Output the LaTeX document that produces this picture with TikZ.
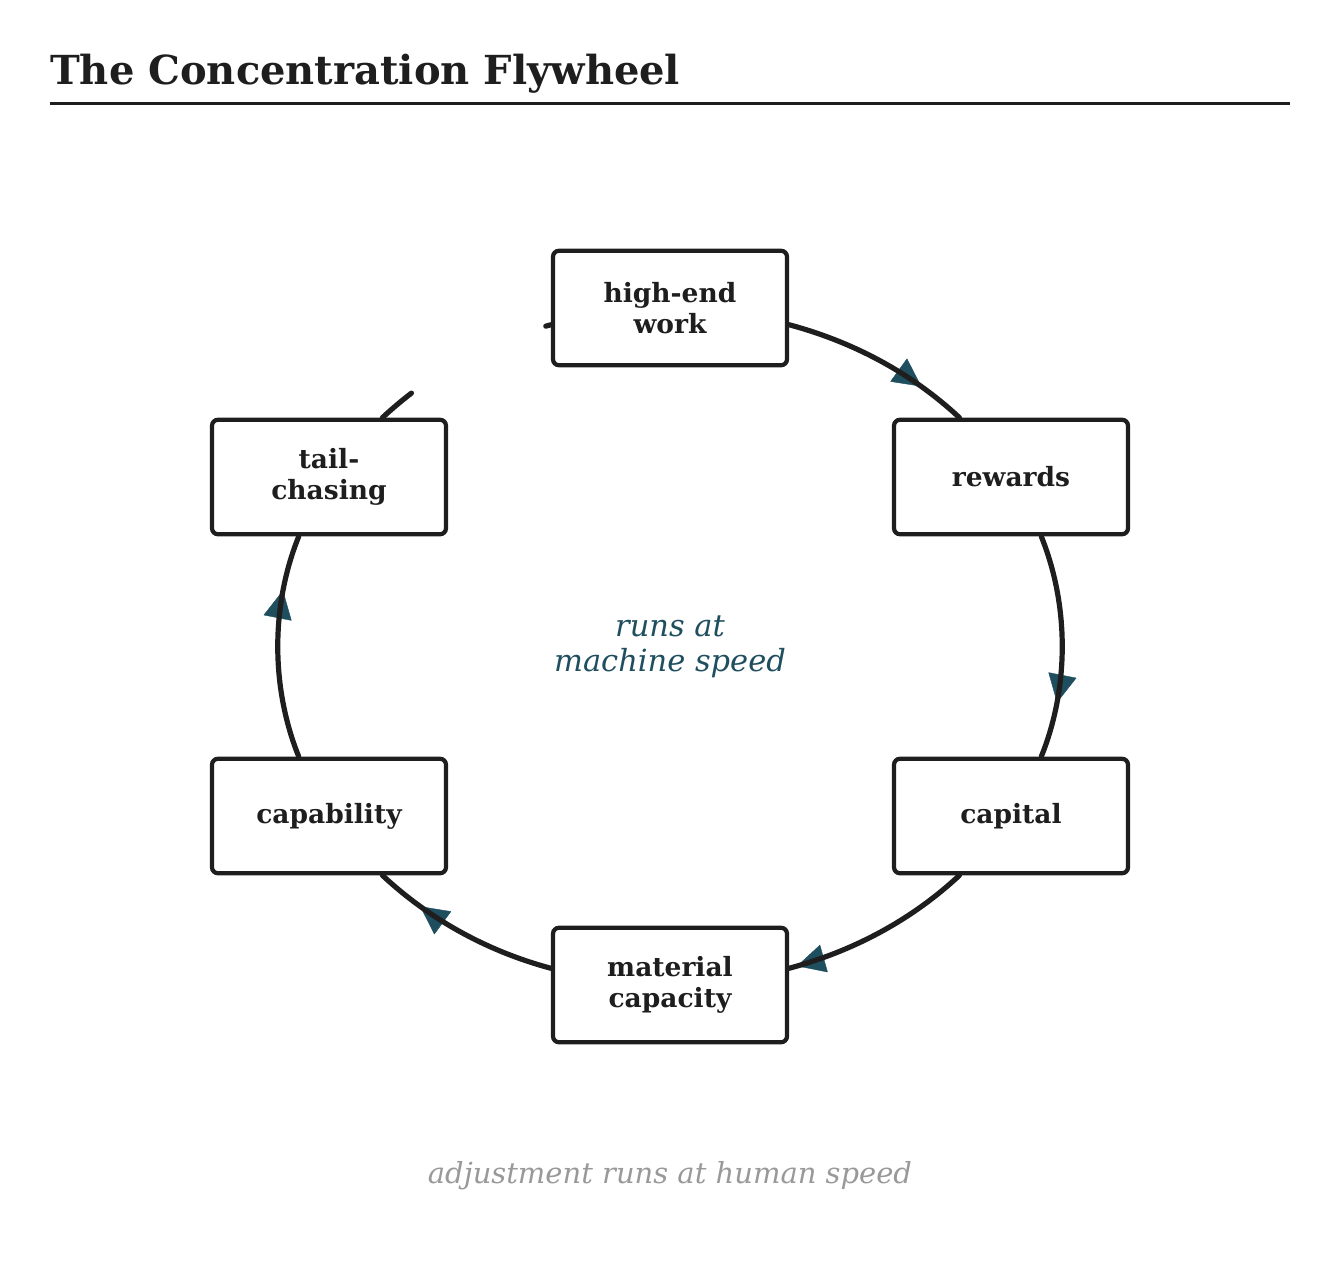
\documentclass[tikz,border=0pt]{standalone}
\usepackage{fontspec}
\setmainfont{DejaVu Serif}
\usetikzlibrary{arrows.meta,decorations.markings}
\definecolor{ink}{HTML}{1E1E1E}
\definecolor{flowteal}{HTML}{1F4E5F}
\definecolor{footgray}{HTML}{999999}

\begin{document}
\begin{tikzpicture}[x=1pt,y=1pt,
  stage/.style={draw=ink,line width=4.2pt,rounded corners=6pt,fill=white,minimum width=234pt,minimum height=114.5pt,align=center,text=ink,font=\fontsize{26.5}{31}\selectfont\bfseries},
  wheel/.style={draw=ink,line width=5.2pt,line cap=round,looseness=0.87},
  flow/.style={wheel,decoration={markings,mark=at position #1 with {\arrow{Triangle[length=36pt,width=35pt,round,color=flowteal]}}},preaction={decorate}},
  flow/.default=0.76]
\useasboundingbox (0,0) rectangle (1340,-1272);
\node[font=\fontsize{40}{48}\selectfont\bfseries,text=ink,anchor=base west,inner sep=0pt] (title) at (50,-84) {The Concentration Flywheel};
\draw[ink,line width=3pt] (50,-103) coordinate (ruleL) -- (1290,-103) coordinate (ruleR);
\node[stage] (work) at (670,-308) {high-end\\work};
\node[stage] (rewards) at (1011,-477) {rewards};
\node[stage] (capital) at (1011,-816) {capital};
\node[stage] (material) at (670,-985) {material\\capacity};
\node[stage] (capability) at (329,-816) {capability};
\node[stage] (tail) at (329,-477) {tail-\\chasing};
\node[font=\fontsize{30.5}{35}\selectfont\itshape,text=flowteal,align=center] (hub) at (670,-647) {runs at\\machine speed};
\node[font=\fontsize{29}{34}\selectfont\itshape,text=footgray] (note) at (670,-1176) {adjustment runs at human speed};
\draw[flow] (work.-8) to[out=-15,in=137] (rewards.131.5);
\draw[flow] (rewards.-63) to[out=-68,in=68] (capital.63);
\draw[flow=0.97] (capital.-131.5) to[out=-137,in=15] (material.8);
\draw[flow] (material.172) to[out=165,in=-43] (capability.-48.5);
\draw[flow] (capability.117) to[out=112,in=-112] (tail.-117);
\draw[wheel,dash pattern=on 38pt off 151pt] (tail.48.5) to[out=43,in=-165] (work.-172);
\end{tikzpicture}
\end{document}
